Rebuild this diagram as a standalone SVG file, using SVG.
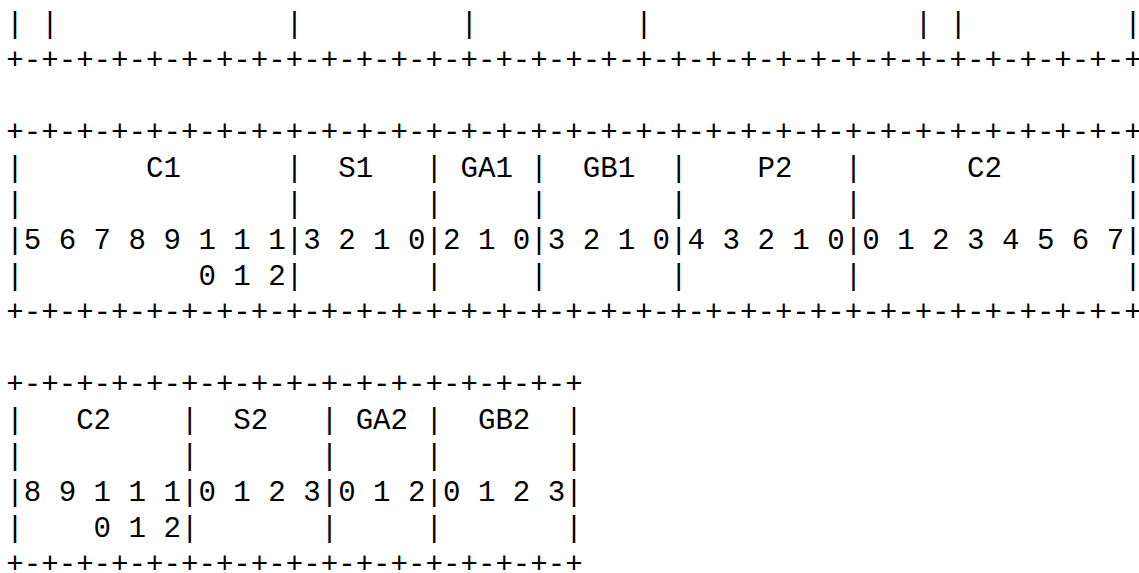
<svg xmlns="http://www.w3.org/2000/svg" width="1139" height="573" viewBox="0 0 1139 573">
<style>
text { font-family: "Liberation Mono", "Courier New", monospace; font-size: 29.11px; fill: #000; white-space: pre; }
</style>
<rect width="1139" height="573" fill="#fff"/>
<g id="block-top" xml:space="preserve">
<text x="6.27" y="32.5">| |             |         |         |               | |         |</text>
<text x="6.27" y="68.5">+-+-+-+-+-+-+-+-+-+-+-+-+-+-+-+-+-+-+-+-+-+-+-+-+-+-+-+-+-+-+-+-+</text>
</g>
<g id="block-1" xml:space="preserve">
<text x="6.27" y="140.5">+-+-+-+-+-+-+-+-+-+-+-+-+-+-+-+-+-+-+-+-+-+-+-+-+-+-+-+-+-+-+-+-+</text>
<text x="6.27" y="176.5">|       C1      |  S1   | GA1 |  GB1  |    P2   |      C2       |</text>
<text x="6.27" y="212.5">|               |       |     |       |         |               |</text>
<text x="6.27" y="248.5">|5 6 7 8 9 1 1 1|3 2 1 0|2 1 0|3 2 1 0|4 3 2 1 0|0 1 2 3 4 5 6 7|</text>
<text x="6.27" y="284.5">|          0 1 2|       |     |       |         |               |</text>
<text x="6.27" y="320.5">+-+-+-+-+-+-+-+-+-+-+-+-+-+-+-+-+-+-+-+-+-+-+-+-+-+-+-+-+-+-+-+-+</text>
</g>
<g id="block-2" xml:space="preserve">
<text x="6.27" y="392.5">+-+-+-+-+-+-+-+-+-+-+-+-+-+-+-+-+</text>
<text x="6.27" y="428.5">|   C2    |  S2   | GA2 |  GB2  |</text>
<text x="6.27" y="464.5">|         |       |     |       |</text>
<text x="6.27" y="500.5">|8 9 1 1 1|0 1 2 3|0 1 2|0 1 2 3|</text>
<text x="6.27" y="536.5">|    0 1 2|       |     |       |</text>
<text x="6.27" y="572.5">+-+-+-+-+-+-+-+-+-+-+-+-+-+-+-+-+</text>
</g>
</svg>
